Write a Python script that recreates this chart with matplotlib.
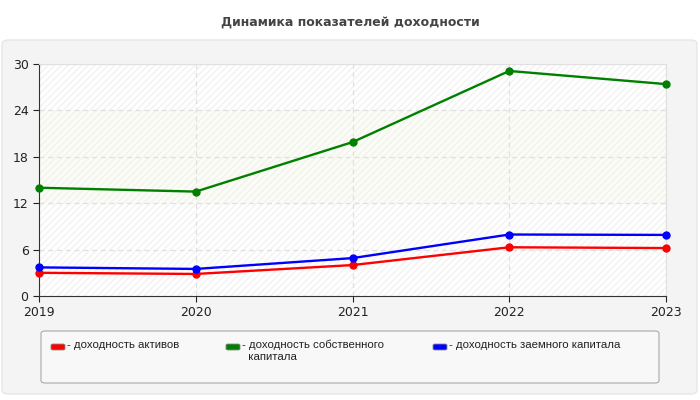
import matplotlib
matplotlib.use('Agg')
import matplotlib.pyplot as plt
from matplotlib.patches import FancyBboxPatch

plt.rcParams['font.family'] = ['DejaVu Sans']

years = [2019, 2020, 2021, 2022, 2023]
roa = [3.0, 2.85, 4.0, 6.3, 6.2]
roe = [14.0, 13.5, 19.9, 29.1, 27.4]
rod = [3.7, 3.5, 4.9, 7.95, 7.9]
labels = ['- доходность активов', '- доходность собственного\n  капитала', '- доходность заемного капитала']
colors = ['#ff0000', '#008000', '#0000ff']
yticks = [0, 6, 12, 18, 24, 30]

fig = plt.figure(figsize=(7, 4), dpi=100)
fig.patch.set_facecolor('white')

# outer panel
panel = FancyBboxPatch((2 / 700, 6 / 400), 695 / 700, 354 / 400,
                       boxstyle='round,pad=0,rounding_size=0.01',
                       transform=fig.transFigure, facecolor='#f4f4f4',
                       edgecolor='#e6e6e6', linewidth=1, zorder=-5)
fig.patches.append(panel)

fig.text(0.5, 1 - 22 / 400, 'Динамика показателей доходности', ha='center', va='center',
         fontsize=9, fontweight='bold', color='#444444')

ax = fig.add_axes([39 / 700, 104 / 400, 627 / 700, 232 / 400])
ax.set_facecolor('white')
ax.axhspan(12, 24, color='#fbfcf4', zorder=0)
ax.fill_between([2019, 2023], 0, 30, facecolor='none', edgecolor='#f2f2f2',
                hatch='/////', linewidth=0, zorder=0)

for vals, c in zip([roa, roe, rod], colors):
    ax.plot(years, vals, color=c, linewidth=1.7, marker='o', markersize=5, zorder=3,
            clip_on=False)

ax.set_xlim(2019, 2023)
ax.set_ylim(0, 30)
ax.set_xticks(years)
ax.set_yticks(yticks)
ax.grid(True, color='#e0e0e0', linestyle=(0, (4, 3)), linewidth=0.9)
ax.tick_params(labelsize=9, colors='#222222', length=4)
for s in ['top', 'right']:
    ax.spines[s].set_color('#e0e0e0')
for s in ['left', 'bottom']:
    ax.spines[s].set_color('#333333')

# legend box
lbox = FancyBboxPatch((41 / 700, 17 / 400), 618 / 700, 52 / 400,
                      boxstyle='round,pad=0,rounding_size=0.006',
                      transform=fig.transFigure, facecolor='#f8f8f8',
                      edgecolor='#aaaaaa', linewidth=0.8, zorder=-4)
fig.patches.append(lbox)

lx = [51, 226, 433]
for x, lab, c in zip(lx, labels, colors):
    sw = FancyBboxPatch((x / 700, 1 - 350 / 400), 14 / 700, 6 / 400,
                        boxstyle='round,pad=0,rounding_size=0.003',
                        transform=fig.transFigure, facecolor=c,
                        edgecolor='#888888', linewidth=0.6, zorder=-3)
    fig.patches.append(sw)
    fig.text((x + 16) / 700, 1 - 340 / 400, lab, ha='left', va='top',
             fontsize=8.2, color='#222222', linespacing=1.15,
             family='Liberation Sans')

fig.savefig('out.png', dpi=100)
